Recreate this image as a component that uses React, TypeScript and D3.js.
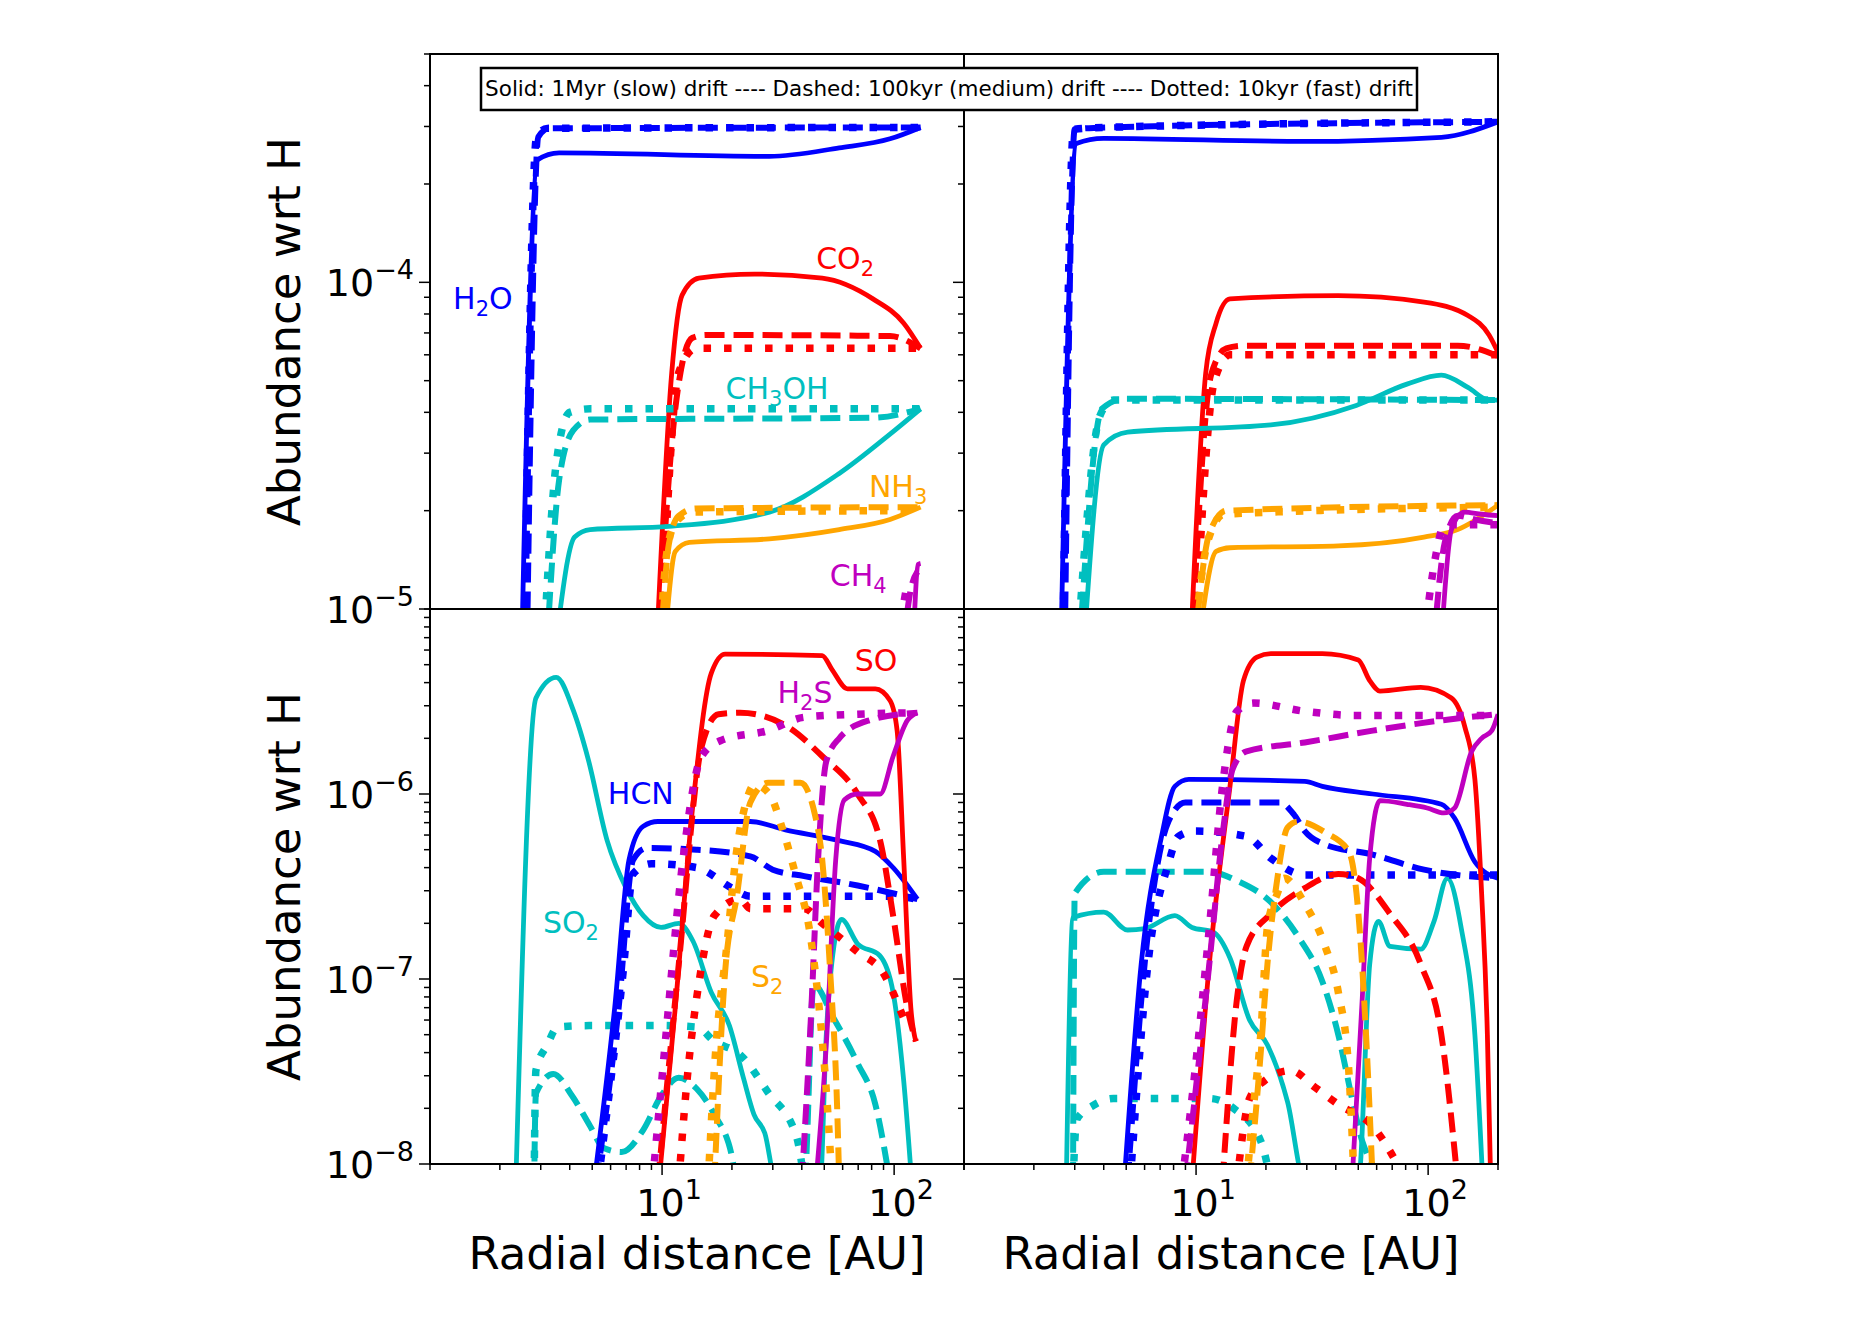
import React from 'react';
import * as d3 from 'd3';

type Pt = [number, number];
interface Species { color: string; solid: Pt[]; dashed: Pt[]; dotted: Pt[] }

const BLUE = '#0000ff', RED = '#ff0000', CYAN = '#00bfbf', ORANGE = '#ffa500', MAGENTA = '#bf00bf';

// ---- top-left (ices) ----
const tlH2O: Species = { color: BLUE,
  solid: [[2.49, 8e-6], [2.9, 2.37e-4], [3.6, 2.49e-4], [29, 2.43e-4], [58, 2.58e-4], [96, 2.75e-4], [130, 2.98e-4]],
  dashed: [[2.62, 8e-6], [2.93, 2.79e-4], [3.26, 2.96e-4], [130, 2.98e-4]],
  dotted: [[2.55, 8e-6], [2.88, 2.79e-4], [3.2, 2.96e-4], [130, 2.98e-4]] };
const tlCO2: Species = { color: RED,
  solid: [[9.5, 8e-6], [11, 5.26e-5], [12.2, 9.14e-5], [14.4, 1.03e-4], [25, 1.06e-4], [49, 1.03e-4], [81, 8.9e-5], [110, 7.5e-5], [130, 6.28e-5]],
  dashed: [[9.6, 8e-6], [11.4, 4.1e-5], [13.5, 6.76e-5], [15.5, 6.9e-5], [96, 6.85e-5], [130, 6.28e-5]],
  dotted: [[9.9, 8e-6], [11.8, 5.3e-5], [14, 6.28e-5], [130, 6.28e-5]] };
const tlCH3OH: Species = { color: CYAN,
  solid: [[3.5, 8e-6], [4.2, 1.66e-5], [4.9, 1.75e-5], [10.7, 1.79e-5], [29, 1.98e-5], [58, 2.6e-5], [96, 3.43e-5], [130, 4.1e-5]],
  dashed: [[3.2, 8e-6], [3.6, 2.48e-5], [4.14, 3.52e-5], [4.9, 3.8e-5], [81, 3.85e-5], [130, 4.1e-5]],
  dotted: [[3.1, 8e-6], [3.5, 2.8e-5], [4.0, 4.0e-5], [4.9, 4.1e-5], [130, 4.1e-5]] };
const tlNH3: Species = { color: ORANGE,
  solid: [[10.3, 8e-6], [11.4, 1.5e-5], [13.1, 1.6e-5], [29, 1.64e-5], [58, 1.75e-5], [96, 1.88e-5], [130, 2.05e-5]],
  dashed: [[9.9, 8e-6], [10.7, 1.58e-5], [11.8, 1.93e-5], [14, 2.03e-5], [130, 2.05e-5]],
  dotted: [[9.8, 8e-6], [10.5, 1.5e-5], [11.5, 1.85e-5], [13.5, 1.98e-5], [130, 2.0e-5]] };
const tlCH4: Species = { color: MAGENTA,
  solid: [[121, 8e-6], [127, 1.37e-5], [130, 1.38e-5]],
  dashed: [[110, 8e-6], [118, 1.15e-5], [126, 1.3e-5]],
  dotted: [[103, 8e-6], [112, 1.12e-5]] };

// ---- top-right ----
const trH2O: Species = { color: BLUE,
  solid: [[2.62, 8e-6], [3.05, 2.66e-4], [4.0, 2.76e-4], [29, 2.7e-4], [114, 2.78e-4], [200, 3.1e-4]],
  dashed: [[2.72, 8e-6], [3.0, 2.94e-4], [4.1, 2.98e-4], [200, 3.1e-4]],
  dotted: [[2.67, 8e-6], [2.97, 2.94e-4], [4.0, 2.98e-4], [200, 3.1e-4]] };
const trCO2: Species = { color: RED,
  solid: [[9.5, 8e-6], [11, 5.26e-5], [12.2, 7.5e-5], [14, 8.9e-5], [41, 9.1e-5], [96, 8.7e-5], [149, 7.9e-5], [183, 6.9e-5], [200, 6.1e-5]],
  dashed: [[9.6, 8e-6], [11.6, 5.2e-5], [13.5, 6.28e-5], [16, 6.4e-5], [134, 6.4e-5], [200, 5.95e-5]],
  dotted: [[9.9, 8e-6], [12, 5e-5], [14, 6.0e-5], [200, 6.0e-5]] };
const trCH3OH: Species = { color: CYAN,
  solid: [[3.3, 8e-6], [4.0, 3.18e-5], [5.07, 3.48e-5], [21, 3.66e-5], [49, 4.2e-5], [81, 4.88e-5], [114, 5.2e-5], [149, 4.76e-5], [183, 4.36e-5], [200, 4.36e-5]],
  dashed: [[3.16, 8e-6], [3.93, 4.1e-5], [4.9, 4.4e-5], [200, 4.36e-5]],
  dotted: [[3.1, 8e-6], [3.85, 3.9e-5], [4.4, 4.36e-5], [200, 4.36e-5]] };
const trNH3: Species = { color: ORANGE,
  solid: [[10.3, 8e-6], [12.2, 1.5e-5], [14, 1.54e-5], [41, 1.56e-5], [96, 1.66e-5], [134, 1.75e-5], [200, 2.08e-5]],
  dashed: [[9.9, 8e-6], [11.4, 1.7e-5], [13.5, 2.0e-5], [200, 2.08e-5]],
  dotted: [[9.8, 8e-6], [11.2, 1.6e-5], [13.2, 1.95e-5], [200, 2.05e-5]] };
const trCH4: Species = { color: MAGENTA,
  solid: [[114, 8e-6], [126, 1.75e-5], [143, 1.98e-5], [170, 1.95e-5], [200, 1.93e-5]],
  dashed: [[106, 8e-6], [118, 1.6e-5], [134, 1.93e-5], [159, 1.88e-5], [200, 1.83e-5]],
  dotted: [[96, 8e-6], [106, 1.36e-5], [118, 1.81e-5], [200, 1.81e-5]] };

// ---- bottom-left (gas, sulphur/nitrogen) ----
const blSO2: Species = { color: CYAN,
  solid: [[2.32, 5e-9], [2.86, 3.3e-6], [3.5, 4.27e-6], [4.15, 2.82e-6], [4.8, 1.55e-6], [5.8, 5.6e-7], [7.0, 3.1e-7], [8.3, 2.2e-7], [9.9, 1.9e-7], [11.8, 2.0e-7], [13.6, 1.6e-7], [16.3, 8.45e-8], [19.5, 5.6e-8], [22.4, 2.93e-8], [24.9, 1.85e-8], [27.7, 1.47e-8], [31, 8e-9], [48, 8e-9], [51, 5e-8], [55, 1.5e-7], [59.3, 2.1e-7], [69.6, 1.55e-7], [86.6, 1.34e-7], [99, 8.45e-8], [110, 2.8e-8], [119, 8e-9]],
  dashed: [[2.8, 5e-9], [2.86, 2.4e-8], [3.4, 3.07e-8], [4.1, 2.33e-8], [4.9, 1.6e-8], [5.6, 1.22e-8], [6.7, 1.16e-8], [8.3, 1.53e-8], [9.9, 2.33e-8], [11.8, 2.93e-8], [14.1, 2.55e-8], [16.8, 1.85e-8], [20, 1.1e-8], [21, 8e-9], [41, 8e-9], [45, 9.3e-8], [55, 6.1e-8], [69.6, 3.5e-8], [83, 2.1e-8], [96, 8e-9]],
  dotted: [[2.8, 5e-9], [2.86, 3.2e-8], [3.2, 4.4e-8], [3.55, 5.5e-8], [4.9, 5.6e-8], [9.9, 5.6e-8], [14.1, 5.5e-8], [16.8, 4.6e-8], [21.7, 3.9e-8], [28.6, 2.44e-8], [38, 1.4e-8], [41, 8e-9]] };
const blHCN: Species = { color: BLUE,
  solid: [[5.1, 8e-9], [6.25, 7.0e-8], [7.2, 4.4e-7], [8.3, 6.7e-7], [9.6, 7.1e-7], [24, 7.1e-7], [34, 6.4e-7], [58, 5.6e-7], [83, 4.9e-7], [99, 4.0e-7], [126, 2.7e-7]],
  dashed: [[5.2, 8e-9], [6.5, 7.0e-8], [7.5, 4.4e-7], [8.6, 5.1e-7], [14.1, 5.0e-7], [24, 4.6e-7], [30, 3.9e-7], [41, 3.6e-7], [69.6, 3.2e-7], [126, 2.7e-7]],
  dotted: [[5.3, 8e-9], [6.8, 1.1e-7], [7.5, 3.7e-7], [9, 4.2e-7], [14.1, 4.0e-7], [20, 3.1e-7], [24, 2.8e-7], [99, 2.8e-7], [126, 2.7e-7]] };
const blSO: Species = { color: RED,
  solid: [[9.7, 8e-9], [11.4, 7e-8], [13.6, 8.9e-7], [16.3, 4.5e-6], [18.7, 5.7e-6], [49, 5.6e-6], [54, 4.7e-6], [63, 3.7e-6], [83, 3.7e-6], [96, 3.2e-6], [103, 2.2e-6], [110, 4.4e-7], [118, 7e-8], [124, 4.6e-8]],
  dashed: [[9.6, 8e-9], [11.8, 1.2e-7], [14.8, 1.8e-6], [17.5, 2.7e-6], [21.7, 2.75e-6], [34, 2.35e-6], [49, 1.6e-6], [69.6, 1.0e-6], [87, 5.6e-7], [99, 2.2e-7], [114, 7e-8], [124, 4.6e-8]],
  dotted: [[11.8, 8e-9], [12.8, 2.8e-8], [14.5, 1e-7], [16.8, 2.2e-7], [21.7, 2.7e-7], [24, 2.4e-7], [41, 2.4e-7], [49, 2.0e-7], [69.6, 1.4e-7], [90, 1.07e-7], [110, 6.1e-8]] };
const blH2S: Species = { color: MAGENTA,
  solid: [[46, 8e-9], [51, 4.4e-8], [56, 4.4e-7], [61, 9.3e-7], [69.6, 1.0e-6], [87, 1.0e-6], [99, 1.6e-6], [114, 2.5e-6], [126, 2.75e-6]],
  dashed: [[40, 8e-9], [44, 7e-8], [47, 4.4e-7], [51, 1.5e-6], [58, 2.0e-6], [78, 2.5e-6], [126, 2.75e-6]],
  dotted: [[9.1, 8e-9], [10.3, 4.4e-8], [12.3, 4.4e-7], [14.8, 1.6e-6], [18, 1.95e-6], [28.6, 2.2e-6], [41, 2.6e-6], [69.6, 2.7e-6], [126, 2.75e-6]] };
const blS2: Species = { color: ORANGE,
  solid: [],
  dashed: [[16.8, 8e-9], [18.7, 1.1e-7], [21, 2.8e-7], [24, 9e-7], [28.6, 1.15e-6], [39.5, 1.15e-6], [45.5, 7.8e-7], [49, 4.4e-7], [53, 1.1e-7], [57, 1.76e-8], [58, 8e-9]],
  dotted: [[15.8, 8e-9], [17, 4e-8], [19, 1.5e-7], [21, 5e-7], [23, 9e-7], [25, 1.12e-6], [29, 1.0e-6], [33, 6.5e-7], [38, 3.5e-7], [43, 1.9e-7], [47, 8e-8], [51, 2.5e-8], [54, 8e-9]] };

// ---- bottom-right ----
const brSO2: Species = { color: CYAN,
  solid: [[2.76, 8e-9], [2.95, 2.15e-7], [4.0, 2.3e-7], [5.07, 1.84e-7], [6.0, 1.87e-7], [8.1, 2.2e-7], [9.6, 1.9e-7], [11.8, 1.8e-7], [14, 1.3e-7], [17, 6e-8], [20.3, 4.4e-8], [24.8, 2.16e-8], [29.4, 8e-9], [50, 8e-9], [56, 1.2e-7], [61, 2.05e-7], [68.5, 1.5e-7], [93, 1.45e-7], [106, 2.05e-7], [121, 3.5e-7], [139, 1.87e-7], [159, 5e-8], [172, 8e-9]],
  dashed: [[2.95, 8e-9], [3.0, 2.9e-7], [4.0, 3.8e-7], [11.4, 3.8e-7], [15, 3.4e-7], [21, 2.6e-7], [27.5, 1.7e-7], [35, 9.7e-8], [41, 5e-8], [47, 2.26e-8], [52, 1.33e-8], [68, 8e-9]],
  dotted: [[2.95, 8e-9], [3.06, 1.74e-8], [3.6, 2.07e-8], [4.4, 2.26e-8], [11.4, 2.26e-8], [14.5, 2e-8], [19, 1.33e-8], [21, 8e-9]] };
const brHCN: Species = { color: BLUE,
  solid: [[4.9, 8e-9], [5.8, 1.2e-7], [7.1, 5.9e-7], [8.1, 1.1e-6], [9.3, 1.2e-6], [29.4, 1.17e-6], [35, 1.1e-6], [57.7, 1.0e-6], [114, 8.8e-7], [130, 7.4e-7], [159, 4.3e-7], [200, 3.5e-7]],
  dashed: [[5.07, 8e-9], [6.0, 1.2e-7], [7.6, 7.1e-7], [9, 9e-7], [23, 9e-7], [26.5, 7.7e-7], [29.4, 6.3e-7], [35, 5.4e-7], [57.7, 4.7e-7], [96, 3.9e-7], [200, 3.5e-7]],
  dotted: [[5.2, 8e-9], [6.2, 1.2e-7], [7.6, 4.2e-7], [8.4, 5.9e-7], [9.9, 6.3e-7], [16.5, 5.9e-7], [21, 4.5e-7], [29.4, 3.65e-7], [200, 3.65e-7]] };
const brSO: Species = { color: RED,
  solid: [[9.6, 8e-9], [11.4, 1.2e-7], [14, 1.1e-6], [16, 4.1e-6], [18.3, 5.5e-6], [21, 5.74e-6], [35, 5.74e-6], [50, 5.3e-6], [56, 4.1e-6], [62, 3.6e-6], [93, 3.77e-6], [126, 3.3e-6], [144, 2.3e-6], [159, 1.2e-6], [170, 2.9e-7], [180, 5e-8], [186, 8e-9]],
  dashed: [[13, 8e-9], [15, 7.8e-8], [16.5, 1.5e-7], [21, 2.25e-7], [29.4, 3.1e-7], [41, 3.7e-7], [50, 3.5e-7], [68.5, 2.25e-7], [93, 1.2e-7], [114, 5e-8], [134, 8e-9]],
  dotted: [[15, 8e-9], [17, 2.26e-8], [19.6, 2.8e-8], [25.6, 3.2e-8], [32.5, 2.6e-8], [41, 2.1e-8], [57.7, 1.6e-8], [81, 8e-9]] };
const brH2S: Species = { color: MAGENTA,
  solid: [[47, 8e-9], [52, 7.8e-8], [56, 4.5e-7], [62, 9.2e-7], [81, 8.8e-7], [99, 8.4e-7], [117, 7.9e-7], [130, 8.4e-7], [154, 1.7e-6], [170, 2.0e-6], [188, 2.2e-6], [200, 2.7e-6]],
  dashed: [[9, 8e-9], [11.4, 1.2e-7], [13, 6e-7], [14.4, 1.37e-6], [16.5, 1.7e-6], [29.4, 1.9e-6], [57.7, 2.2e-6], [114, 2.5e-6], [200, 2.7e-6]],
  dotted: [[8.7, 8e-9], [9.9, 3.2e-8], [11.4, 1.87e-7], [13, 1.1e-6], [15, 2.8e-6], [17.7, 3.1e-6], [29.4, 2.8e-6], [49, 2.66e-6], [200, 2.66e-6]] };
const brS2: Species = { color: ORANGE,
  solid: [],
  dashed: [[17, 8e-9], [19, 4e-8], [20.3, 1.2e-7], [22.4, 3.5e-7], [24.8, 6.6e-7], [27.5, 7.1e-7], [36, 6.2e-7], [45.5, 4.9e-7], [50, 2.3e-7], [54, 5e-8], [57.7, 8e-9]],
  dotted: [[16.5, 8e-9], [17.7, 2.07e-8], [19, 5e-8], [20.3, 1.9e-7], [22.4, 2.9e-7], [24, 3.5e-7], [29.4, 2.55e-7], [36, 1.5e-7], [41, 8.5e-8], [45.5, 3.2e-8], [48, 8e-9]] };

// label text: [main, sub, rest]
const topLabels: { t: [string, string, string]; x: number; y: number; color: string }[] = [
  { t: ['H', '2', 'O'], x: 1.69, y: 8.3e-5, color: BLUE },
  { t: ['CO', '2', ''], x: 61.5, y: 1.1e-4, color: RED },
  { t: ['CH', '3', 'OH'], x: 31.3, y: 4.4e-5, color: CYAN },
  { t: ['NH', '3', ''], x: 104, y: 2.2e-5, color: ORANGE },
  { t: ['CH', '4', ''], x: 70, y: 1.18e-5, color: MAGENTA },
];
const bottomLabels: { t: [string, string, string]; x: number; y: number; color: string }[] = [
  { t: ['SO', '', ''], x: 83.6, y: 4.6e-6, color: RED },
  { t: ['H', '2', 'S'], x: 41.3, y: 3.1e-6, color: MAGENTA },
  { t: ['HCN', '', ''], x: 8.1, y: 8.8e-7, color: BLUE },
  { t: ['SO', '2', ''], x: 4.05, y: 1.77e-7, color: CYAN },
  { t: ['S', '2', ''], x: 28.4, y: 9.0e-8, color: ORANGE },
];

const xDomain: [number, number] = [1, 200];
const topDomain: [number, number] = [1e-5, 5e-4];
const bottomDomain: [number, number] = [1e-8, 1e-5];
const topMajor = [1e-5, 1e-4];
const bottomMajor = [1e-8, 1e-7, 1e-6];
const xMajor = [10, 100];
const legendText = 'Solid: 1Myr (slow) drift ---- Dashed: 100kyr (medium) drift ---- Dotted: 10kyr (fast) drift';

const FONT = 'DejaVu Sans, sans-serif';
const L = 430, M = 964, R = 1498, T = 54, MID = 609, B = 1164;

const styles = {
  solid: { w: 4.8, dash: undefined as string | undefined },
  dashed: { w: 6, dash: '20,9' },
  dotted: { w: 7.5, dash: '7.5,13' },
};

function minorTicks(domain: [number, number]) {
  const out: number[] = [];
  for (let e = Math.floor(Math.log10(domain[0])); e <= Math.ceil(Math.log10(domain[1])); e++) {
    for (let m = 1; m < 10; m++) {
      const v = m * Math.pow(10, e);
      if (v >= domain[0] * 0.9999 && v <= domain[1] * 1.0001) out.push(v);
    }
  }
  return out;
}

const Pow = ({ exp, x, y, anchor }: { exp: string; x: number; y: number; anchor: string }) => (
  <text x={x} y={y} textAnchor={anchor} fontFamily={FONT} fontSize={38} fill="#000">
    10<tspan fontSize={27} dy={-17}>{exp}</tspan>
  </text>
);

const Panel = ({ id, x0, x1, y0, y1, yDomain, species, showYLabels, showX, labels }: any) => {
  const xs = d3.scaleLog().domain(xDomain).range([x0, x1]);
  const ys = d3.scaleLog().domain(yDomain).range([y1, y0]);
  const line = d3.line<Pt>().x(d => xs(d[0])).y(d => ys(d[1])).curve(d3.curveMonotoneX);
  const yMajor: number[] = yDomain === topDomain ? topMajor : bottomMajor;
  return (
    <g>
      <clipPath id={id}><rect x={x0} y={y0} width={x1 - x0} height={y1 - y0} /></clipPath>
      <g clipPath={`url(#${id})`}>
        {species.map((s: Species, i: number) =>
          (['dotted', 'dashed', 'solid'] as const).map(k => s[k].length ? (
            <path key={`${i}${k}`} d={line(s[k]) || ''} fill="none" stroke={s.color}
              strokeWidth={styles[k].w} strokeDasharray={styles[k].dash} strokeLinejoin="round" />
          ) : null))}
      </g>
      {labels && labels.map((lb: any, i: number) => (
        <text key={i} x={xs(lb.x)} y={ys(lb.y)} textAnchor="middle" fontFamily={FONT} fontSize={30} fill={lb.color}>
          {lb.t[0]}{lb.t[1] && <tspan fontSize={21} dy={7}>{lb.t[1]}</tspan>}{lb.t[2] && <tspan dy={-7}>{lb.t[2]}</tspan>}
        </text>
      ))}
      {minorTicks(yDomain).map((v, i) => (
        <line key={`ym${i}`} x1={x0} x2={x0 - (yMajor.some(m => Math.abs(m - v) / v < 1e-6) ? 11 : 6)} y1={ys(v)} y2={ys(v)} stroke="#000" strokeWidth={1.5} />
      ))}
      {showYLabels && yMajor.map((v, i) => (
        <Pow key={`yl${i}`} exp={`−${-Math.round(Math.log10(v))}`} x={x0 - 16} y={ys(v) + 14} anchor="end" />
      ))}
      {showX && minorTicks(xDomain).map((v, i) => (
        <line key={`xm${i}`} x1={xs(v)} x2={xs(v)} y1={y1} y2={y1 + (xMajor.includes(v) ? 11 : 6)} stroke="#000" strokeWidth={1.5} />
      ))}
      {showX && xMajor.map((v, i) => (
        <Pow key={`xl${i}`} exp={`${Math.round(Math.log10(v))}`} x={xs(v) + 7} y={y1 + 52} anchor="middle" />
      ))}
      {showX && (
        <text x={(x0 + x1) / 2} y={y1 + 105} textAnchor="middle" fontFamily={FONT} fontSize={45}>Radial distance [AU]</text>
      )}
      <rect x={x0} y={y0} width={x1 - x0} height={y1 - y0} fill="none" stroke="#000" strokeWidth={2} />
    </g>
  );
};

export default function App() {
  return (
    <svg width={1861} height={1325} style={{ display: 'block', background: '#fff', position: 'absolute', left: 0, top: 0 }}>
      <Panel id="c1" x0={L} x1={M} y0={T} y1={MID} yDomain={topDomain} species={[tlH2O, tlCO2, tlCH3OH, tlNH3, tlCH4]} showYLabels labels={topLabels} />
      <Panel id="c2" x0={M} x1={R} y0={T} y1={MID} yDomain={topDomain} species={[trH2O, trCO2, trCH3OH, trNH3, trCH4]} />
      <Panel id="c3" x0={L} x1={M} y0={MID} y1={B} yDomain={bottomDomain} species={[blSO2, blHCN, blSO, blH2S, blS2]} showYLabels showX labels={bottomLabels} />
      <Panel id="c4" x0={M} x1={R} y0={MID} y1={B} yDomain={bottomDomain} species={[brSO2, brHCN, brSO, brH2S, brS2]} showX />
      {[(T + MID) / 2, (MID + B) / 2].map((cy, i) => (
        <text key={i} transform={`translate(300,${cy}) rotate(-90)`} textAnchor="middle" fontFamily={FONT} fontSize={45}>Abundance wrt H</text>
      ))}
      <rect x={481} y={68} width={936} height={42} fill="#fff" stroke="#000" strokeWidth={2.5} />
      <text x={949} y={96} textAnchor="middle" fontFamily={FONT} fontSize={21.5}>{legendText}</text>
    </svg>
  );
}
